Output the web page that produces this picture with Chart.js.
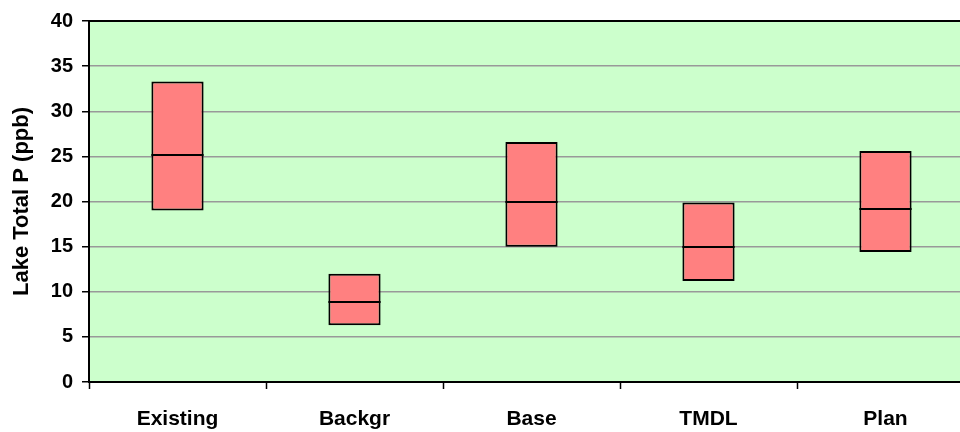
<!DOCTYPE html>
<html>
<head>
<meta charset="utf-8">
<script src="https://cdn.jsdelivr.net/npm/chart.js@4.4.1/dist/chart.umd.min.js"></script>
<style>
  html, body { margin: 0; padding: 0; background: #fff; overflow: hidden; }
  #wrap { width: 985px; height: 432px; }
</style>
</head>
<body>
<div id="wrap"><canvas id="lakeChart" width="985" height="432"></canvas></div>
<script>
// categories and values
const scenarios = ['Existing', 'Backgr', 'Base', 'TMDL', 'Plan'];
const lowValues = [19.0, 6.3, 15.0, 11.2, 14.4];
const highValues = [33.3, 12.0, 26.6, 19.9, 25.6];
const medianValues = [25.2, 8.9, 19.9, 15.0, 19.2];

const plotBackground = {
    id: 'plotBackground',
    beforeDraw(chart) {
        let { ctx, chartArea } = chart;
        ctx.save();
        ctx.fillStyle = '#CCFFCC';
        ctx.fillRect(chartArea.left, chartArea.top, chartArea.right - chartArea.left, chartArea.bottom - chartArea.top);
        ctx.restore();
    },
    afterDraw(chart) {
        let { ctx, chartArea } = chart;
        ctx.save();
        ctx.strokeStyle = '#000';
        ctx.lineWidth = 2;
        ctx.beginPath();
        ctx.moveTo(chartArea.left, chartArea.top);
        ctx.lineTo(chartArea.right, chartArea.top);
        ctx.stroke();
        ctx.restore();
    }
};

// median line across each box
const medianLines = {
    id: 'medianLines',
    afterDatasetsDraw(chart) {
        let { ctx } = chart;
        let meta = chart.getDatasetMeta(0);
        let y = chart.scales.y;
        ctx.save();
        ctx.strokeStyle = '#000';
        ctx.lineWidth = 2;
        meta.data.forEach((bar, i) => {
            let py = Math.round(y.getPixelForValue(medianValues[i]));
            ctx.beginPath();
            ctx.moveTo(bar.x - bar.width / 2, py);
            ctx.lineTo(bar.x + bar.width / 2, py);
            ctx.stroke();
        });
        ctx.restore();
    }
};

new Chart(document.getElementById('lakeChart'), {
    type: 'bar',
    data: {
        labels: scenarios,
        datasets: [{
            data: scenarios.map((s, i) => [lowValues[i], highValues[i]]),
            backgroundColor: '#FF8080',
            borderColor: '#000',
            borderWidth: 2,
            borderSkipped: false,
            categoryPercentage: 1,
            barPercentage: 0.295
        }]
    },
    options: {
        responsive: false,
        animation: false,
        layout: { padding: { left: 0, right: 11, top: 20, bottom: 0 } },
        plugins: { legend: { display: false }, tooltip: { enabled: false } },
        scales: {
            x: {
                afterFit(scale) { scale.height = 50; },
                grid: { offset: true, drawOnChartArea: false, color: '#000', tickLength: 7, tickWidth: 1.5 },
                border: { color: '#000', width: 2 },
                ticks: { color: '#000', font: { family: 'Liberation Sans, Arial', size: 21, weight: 'bold' }, padding: 18 }
            },
            y: {
                min: 0,
                max: 40,
                afterFit(scale) { scale.width = 89; },
                grid: { color: '#999999', lineWidth: 1.5, tickColor: '#000', tickLength: 7 },
                border: { color: '#000', width: 2 },
                ticks: { stepSize: 5, color: '#000', font: { family: 'Liberation Sans, Arial', size: 20, weight: 'bold' }, padding: 9 },
                title: {
                    display: true,
                    text: 'Lake Total P (ppb)',
                    color: '#000',
                    font: { family: 'Liberation Sans, Arial', size: 22, weight: 'bold' },
                    padding: { top: 9, bottom: 0 }
                }
            }
        }
    },
    plugins: [plotBackground, medianLines]
});
</script>
</body>
</html>
